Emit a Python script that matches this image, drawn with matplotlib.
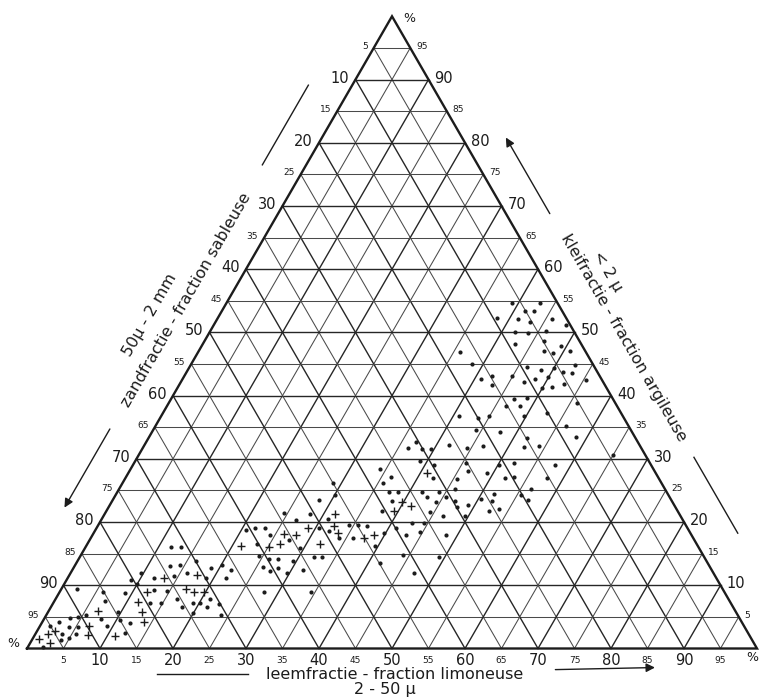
import numpy as np
import matplotlib
matplotlib.use("Agg")
import matplotlib.pyplot as plt

# --- data: silt (2-50 µ) and clay (< 2 µ) in %, sand = 100 - silt - clay ---
dot_silt = [2.2, 5.9, 7.0, 9.1, 8.8, 9.7, 2.3, 3.5, 4.5, 4.0, 5.3, 2.0, 4.0, 4.9, 1.3, 5.5, 3.6,
            7.9, 9.1, 10.5, 12.1, 12.2, 9.6, 5.4, 9.9, 11.8, 14.4, 13.1, 14.4, 15.9, 16.2, 18.8,
            20.1, 21.7, 18.9, 21.7, 11.7, 13.1, 12.7, 14.6, 16.6, 21.1, 13.3, 14.7, 17.9, 19.1,
            20.1, 21.4, 22.8, 20.0, 23.9, 20.7, 21.7, 23.2,
            44.2, 46.5, 41.7, 37.0, 36.3, 38.3, 39.6, 39.1, 41.2, 44.4, 45.5, 46.4, 49.1, 45.5,
            34.1, 36.2, 35.7, 42.2, 37.2, 38.4, 38.3, 41.7, 42.9, 44.1, 44.4, 45.5, 46.0, 47.0,
            47.7, 49.0, 50.3, 51.8, 52.4, 49.5, 46.6, 44.4, 37.7, 44.5, 42.8, 44.6, 42.9, 41.1,
            39.8, 48.4, 44.1, 49.2, 41.6, 47.0, 28.8, 30.0, 28.2, 24.4, 28.2, 26.6, 31.0, 30.5,
            32.1, 34.0, 34.4, 35.6, 35.9, 36.9, 39.6, 32.0, 33.2, 29.5, 31.6, 34.4, 27.9, 23.0,
            24.3, 27.3, 24.4, 26.1, 27.4, 25.9, 28.0, 27.2, 29.6, 29.5,
            39.1, 43.0, 41.5, 42.7, 38.3, 41.2, 43.1, 45.8, 48.3, 41.8, 43.7, 46.0, 46.5, 42.7,
            47.3, 48.6, 49.3, 50.8, 35.8, 38.4, 46.2, 48.4, 50.0, 51.5, 52.6, 52.9, 55.3, 42.2,
            40.9, 44.9, 48.3, 49.9, 47.1, 49.9, 51.2, 52.7, 42.9, 47.0, 48.7, 48.4, 46.4, 55.9,
            52.6, 49.7, 44.9, 43.5, 40.8, 56.3, 47.7, 51.9, 58.4, 52.2, 54.1, 65.0, 50.1, 52.0,
            57.8, 52.0, 53.1, 57.8, 56.4, 55.5, 52.1, 56.9, 53.6]
dot_clay = [9.4, 8.9, 7.5, 8.7, 10.9, 11.9, 4.2, 4.8, 5.0, 3.4, 3.4, 0.3, 1.3, 1.6, 3.6, 2.3, 2.3,
            4.6, 3.6, 4.5, 4.0, 2.5, 5.8, 5.3, 10.2, 11.2, 11.4, 13.1, 13.2, 12.0, 13.8, 12.7,
            13.2, 12.4, 11.2, 11.2, 16.0, 16.0, 9.3, 9.1, 7.9, 7.9, 7.2, 7.2, 6.6, 7.2,
            7.2, 6.6, 7.0, 5.6, 5.3, 18.7, 19.0, 16.6,
            34.6, 32.0, 32.2, 32.7, 31.7, 31.5, 31.5, 29.6, 29.0, 31.7, 29.3, 28.1, 27.7, 26.8,
            28.4, 27.2, 26.1, 26.9, 24.7, 24.8, 23.3, 24.7, 23.9, 24.7, 23.2, 23.9, 25.2, 23.3,
            22.4, 22.7, 23.7, 24.4, 21.8, 21.0, 20.9, 21.6, 21.8, 19.8, 19.8, 18.5, 18.0, 19.0,
            18.2, 18.0, 14.8, 14.4, 13.5, 12.0, 26.1, 24.3, 23.5, 21.5, 21.2, 20.4, 20.5, 19.1,
            18.6, 17.5, 19.5, 19.5, 17.4, 19.3, 16.2, 14.5, 14.4, 15.9, 12.4, 9.0, 9.0, 19.1,
            18.0, 17.1, 14.7, 14.1, 14.1, 12.9, 12.8, 12.2, 12.0, 13.8,
            54.7, 54.6, 53.4, 53.4, 52.2, 52.1, 51.7, 52.1, 51.2, 50.1, 49.9, 50.3, 48.7, 48.2,
            47.1, 46.8, 47.8, 47.1, 46.9, 45.0, 44.5, 44.1, 44.3, 43.8, 44.9, 43.5, 42.5, 43.1,
            42.7, 43.1, 42.6, 42.9, 42.1, 41.2, 41.3, 41.8, 41.7, 39.4, 39.6, 38.3, 38.3, 38.8,
            37.2, 36.7, 36.7, 36.5, 36.8, 35.2, 34.2, 33.3, 33.5, 31.9, 32.1, 30.6, 29.0, 29.3,
            29.1, 26.9, 27.2, 26.9, 25.3, 24.3, 23.3, 23.5, 22.1]

cross_silt = [6.7, 6.7, 1.7, 2.5, 2.8, 0.9, 7.3, 11.1, 12.8, 13.9, 11.5, 11.9, 13.2, 17.5, 17.1,
              18.4, 19.7, 21.2, 40.9, 39.8, 41.3, 39.4, 31.6, 29.0, 32.3, 33.4, 37.4, 38.6, 31.8,
              26.2, 27.9, 26.4, 25.2]
cross_clay = [6.0, 3.6, 2.3, 2.8, 0.8, 1.5, 2.1, 1.9, 5.8, 4.2, 7.4, 9.0, 11.2, 11.7, 9.4,
              9.0, 9.0, 16.2, 27.7, 23.1, 22.5, 21.8, 21.3, 19.1, 19.4, 18.3, 17.4, 17.9, 16.6,
              18.1, 17.9, 16.5, 16.0]

grid_steps = list(range(5, 100, 5))

H = np.sqrt(3) / 2
PX = 7.3  # pixels per % along the base


def tern(silt, clay):
    silt = np.asarray(silt, float)
    clay = np.asarray(clay, float)
    return silt + clay / 2, clay * H


def left_pt(c, off=0.0):
    # point on left edge at clay c, moved off pixels outward
    return c / 2 - H * off / PX, c * H + 0.5 * off / PX


def right_pt(c, off=0.0):
    return 100 - c / 2 + H * off / PX, c * H + 0.5 * off / PX


fig = plt.figure(figsize=(7.61, 7.00), dpi=100)
ax = fig.add_axes([0, 0, 1, 1])
ax.set_xlim(-27 / PX, 734 / PX)
ax.set_ylim(-51.5 / PX, 648.5 / PX)
ax.axis("off")

ink = "#1c1c1c"
title_fs = 11.5

# grid
for k in grid_steps:
    lw = 1.0 if k % 10 == 0 else 0.75
    col = "#262626" if k % 10 == 0 else "#4a4a4a"
    # clay = k (horizontal)
    ax.plot([k / 2, 100 - k / 2], [k * H, k * H], color=col, lw=lw, zorder=1)
    # silt = k
    ax.plot([k, k + (100 - k) / 2], [0, (100 - k) * H], color=col, lw=lw, zorder=1)
    # sand = k
    ax.plot([100 - k, (100 - k) / 2], [0, (100 - k) * H], color=col, lw=lw, zorder=1)

ax.plot([0, 100, 50, 0], [0, 0, 50 * H * 2, 0], color=ink, lw=1.7, zorder=2,
        solid_joinstyle="miter")

# tick labels
for k in grid_steps:
    big = k % 10 == 0
    fs = 10.5 if big else 6.5
    x, y = left_pt(k)
    ax.text(x - 6 / PX, y + 0.2, str(100 - k), ha="right", va="center", fontsize=fs, color=ink)
    x, y = right_pt(k)
    ax.text(x + 6 / PX, y + 0.2, str(k), ha="left", va="center", fontsize=fs, color=ink)
    ax.text(k, -1.6, str(k), ha="center", va="center", fontsize=fs, color=ink)

ax.text(52.4, 86.3, "%", fontsize=9, ha="center", va="center", color=ink)
ax.text(-1.9, 0.7, "%", fontsize=9, ha="center", va="center", color=ink)
ax.text(99.3, -1.2, "%", fontsize=9, ha="center", va="center", color=ink)

# axis titles, left (sand)
x, y = left_pt(52.2, 36.6)
ax.text(x, y, "zandfractie - fraction sableuse", rotation=60, ha="center", va="center",
        fontsize=title_fs, color=ink, rotation_mode="anchor")
x, y = left_pt(48.0, 60.0)
ax.text(x, y, "50µ - 2 mm", rotation=60, ha="center", va="center",
        fontsize=title_fs, color=ink, rotation_mode="anchor")
a, b = left_pt(73.5, 38), left_pt(86.1, 38)
ax.plot([a[0], b[0]], [a[1], b[1]], color=ink, lw=1.0)
ax.annotate("", xy=left_pt(18.9, 38), xytext=left_pt(32.1, 38),
            arrowprops=dict(arrowstyle="-|>", color=ink, lw=1.0, mutation_scale=13))

# right (clay)
x, y = right_pt(46.0, 39.8)
ax.text(x, y, "kleifractie - fraction argileuse", rotation=-60, ha="center", va="center",
        fontsize=title_fs, color=ink, rotation_mode="anchor")
x, y = right_pt(55.0, 59.3)
ax.text(x, y, "< 2 µ", rotation=-60, ha="center", va="center",
        fontsize=title_fs, color=ink, rotation_mode="anchor")
ax.annotate("", xy=right_pt(78.2, 38), xytext=right_pt(65.4, 38),
            arrowprops=dict(arrowstyle="-|>", color=ink, lw=1.0, mutation_scale=13))
a, b = right_pt(27.0, 41), right_pt(15.0, 41)
ax.plot([a[0], b[0]], [a[1], b[1]], color=ink, lw=1.0)

# bottom (silt)
ax.text(50.4, -3.63, "leemfractie - fraction limoneuse", ha="center", va="center",
        fontsize=title_fs, color=ink)
ax.text(49.0, -5.6, "2 - 50 µ", ha="center", va="center", fontsize=title_fs, color=ink)
ax.plot([17.8, 30.3], [-3.5, -3.5], color=ink, lw=1.0)
ax.annotate("", xy=(86.4, -2.6), xytext=(72.0, -2.9),
            arrowprops=dict(arrowstyle="-|>", color=ink, lw=1.0, mutation_scale=13))

# samples
xd, yd = tern(dot_silt, dot_clay)
ax.scatter(xd, yd, s=9, color=ink, marker="o", linewidths=0, zorder=3)
xc, yc = tern(cross_silt, cross_clay)
ax.scatter(xc, yc, s=30, color=ink, marker="+", linewidths=1.0, zorder=3)

plt.savefig("out.png", dpi=100)
